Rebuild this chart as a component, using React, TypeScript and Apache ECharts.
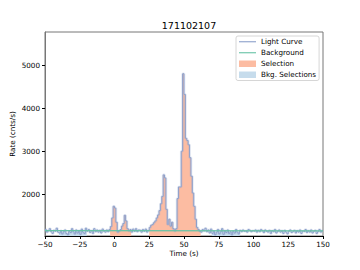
import React, { useEffect, useRef } from "react";
import * as echarts from "echarts";

const TITLE = "171102107";
const T_START = -50; // left edge of first bin (s)
const BIN = 1; // bin width (s)
// light curve rates (cnts/s), one per 1 s bin from -50 s to 150 s
const rates: number[] = [
  // -50 .. -41
  1180, 1120, 1150, 1200, 1130, 1090, 1160, 1140, 1210, 1120,
  // -40 .. -31
  1100, 1150, 1080, 1130, 1170, 1090, 1060, 1140, 1110, 1200,
  // -30 .. -21
  1130, 1080, 1170, 1100, 1150, 1070, 1190, 1120, 1090, 1210,
  // -20 .. -11
  1140, 1180, 1110, 1150, 1090, 1200, 1130, 1170, 1120, 1160,
  // -10 .. -1
  1100, 1190, 1140, 1120, 1170, 1130, 1180, 1250, 1450, 1720,
  // 0 .. 9
  1680, 1350, 1120, 1150, 1180, 1260, 1320, 1510, 1380, 1200,
  // 10 .. 19
  1150, 1180, 1120, 1190, 1140, 1200, 1130, 1170, 1160, 1120,
  // 20 .. 29
  1180, 1140, 1190, 1120, 1160, 1230, 1280, 1300, 1340, 1380,
  // 30 .. 39
  1450, 1520, 1620, 1780, 1950, 2450, 2380, 1650, 1300, 1420,
  // 40 .. 49
  1260, 1350, 1200, 1150, 1200, 1900, 2170, 2170, 3000, 4800,
  // 50 .. 59
  4320, 3300, 3250, 3150, 2850, 2420, 2030, 1720, 1420, 1230,
  // 60 .. 69
  1180, 1140, 1120, 1180, 1150, 1210, 1130, 1170, 1100, 1190,
  // 70 .. 79
  1090, 1140, 1060, 1120, 1180, 1080, 1130, 1200, 1070, 1150,
  // 80 .. 89
  1110, 1170, 1090, 1130, 1060, 1140, 1100, 1180, 1120, 1080,
  // 90 .. 99
  1160, 1130, 1170, 1140, 1150, 1120, 1180, 1160, 1130, 1150,
  // 100 .. 109
  1140, 1170, 1120, 1160, 1130, 1180, 1150, 1110, 1170, 1140,
  // 110 .. 119
  1120, 1160, 1090, 1150, 1130, 1180, 1100, 1140, 1170, 1120,
  // 120 .. 129
  1150, 1090, 1160, 1120, 1080, 1140, 1170, 1110, 1130, 1160,
  // 130 .. 139
  1100, 1150, 1120, 1170, 1090, 1140, 1130, 1180, 1110, 1150,
  // 140 .. 149
  1120, 1170, 1100, 1140, 1160, 1090, 1130, 1180, 1120, 1150,
];
// background model (time, rate)
const backgroundTimes = [-50, 150];
const backgroundRates = [1155, 1150];
// selection intervals (s)
const selections: [number, number][] = [
  [-3.5, 12],
  [25, 62],
];
const bkgSelections: [number, number][] = [
  [-40, -20],
  [70, 90],
];
const xTicks = [-50, -25, 0, 25, 50, 75, 100, 125, 150];
const yTicks = [2000, 3000, 4000, 5000];
const Y_MIN = 1030;
const Y_MAX = 5770;

const rateAt = (t: number) => {
  let i = Math.floor((t - T_START) / BIN + 1e-9);
  if (i < 0) i = 0;
  if (i >= rates.length) i = rates.length - 1;
  return rates[i];
};

const curveData = () => {
  const pts: [number, number][] = rates.map((r, i) => [T_START + i * BIN, r]);
  pts.push([T_START + rates.length * BIN, rates[rates.length - 1]]);
  return pts;
};

const regionData = (a: number, b: number) => {
  const pts: [number, number][] = [[a, rateAt(a)]];
  for (let i = 0; i < rates.length; i++) {
    const t = T_START + i * BIN;
    if (t > a && t < b) pts.push([t, rates[i]]);
  }
  pts.push([b, rateAt(b - 1e-6)]);
  return pts;
};

const FONT = "DejaVu Sans";
const LC = "#8da0cb";
const BG = "#66c2a5";
const SEL = "#fcbca2";
const BSEL = "#c6dcec";

export default function App() {
  const ref = useRef<HTMLDivElement>(null);
  useEffect(() => {
    if (!ref.current) return;
    const chart = echarts.init(ref.current, undefined, { renderer: "svg" });
    const fillSeries = (name: string, color: string, ranges: [number, number][]) =>
      ranges.map((r) => ({
        name,
        type: "line",
        step: "end",
        symbol: "none",
        silent: true,
        data: regionData(r[0], r[1]),
        lineStyle: { width: 0, color },
        itemStyle: { color },
        areaStyle: { color, opacity: 1, origin: "start" },
        z: 1,
      }));
    chart.setOption({
      animation: false,
      title: {
        text: TITLE,
        left: 184,
        textAlign: "center",
        top: 15,
        textStyle: { fontFamily: FONT, fontSize: 9.5, fontWeight: "normal", color: "#000" },
      },
      grid: {
        left: 45,
        right: 37,
        top: 32,
        bottom: 34,
        show: true,
        borderColor: "#777",
        borderWidth: 1,
        backgroundColor: "transparent",
        containLabel: false,
        outerBoundsMode: "none",
      },
      legend: {
        left: 236,
        top: 36,
        orient: "vertical",
        padding: [1, 3, 1, 3],
        itemGap: 1.5,
        itemWidth: 17,
        itemHeight: 6.5,
        borderColor: "#ccc",
        borderWidth: 0.8,
        borderRadius: 2,
        backgroundColor: "rgba(255,255,255,0.8)",
        textStyle: { fontFamily: FONT, fontSize: 7.2, color: "#000", lineHeight: 9.5, padding: [0, 0, 0, 0] },
        itemStyle: { borderWidth: 0 },
        data: [
          { name: "Light Curve", icon: "path://M0 0 H20 V1.3 H0 Z", itemStyle: { color: LC } },
          { name: "Background", icon: "path://M0 0 H20 V1.3 H0 Z", itemStyle: { color: BG } },
          { name: "Selection", icon: "rect", itemStyle: { color: SEL } },
          { name: "Bkg. Selections", icon: "rect", itemStyle: { color: BSEL } },
        ],
      },
      xAxis: {
        type: "value",
        min: -50,
        max: 150,
        interval: 25,
        name: "Time (s)",
        nameLocation: "middle",
        nameGap: 14,
        nameMoveOverlap: false,
        nameTextStyle: { fontFamily: FONT, fontSize: 7.2, color: "#000" },
        axisLine: { show: true, onZero: false, lineStyle: { color: "#000", width: 1 } },
        axisTick: { show: true, length: 3, lineStyle: { color: "#000" }, customValues: xTicks },
        axisLabel: {
          margin: 5,
          fontFamily: FONT,
          fontSize: 7.2,
          color: "#000",
          customValues: xTicks,
          formatter: (v: number) => (v < 0 ? "\u2212" + Math.abs(v) : String(v)),
        },
        splitLine: { show: false },
      },
      yAxis: {
        type: "value",
        min: Y_MIN,
        max: Y_MAX,
        name: "Rate (cnts/s)",
        nameLocation: "middle",
        nameGap: 29,
        nameMoveOverlap: false,
        nameTextStyle: { fontFamily: FONT, fontSize: 7.2, color: "#000" },
        axisLine: { show: true, onZero: false, lineStyle: { color: "#777", width: 1 } },
        axisTick: { show: true, length: 3, lineStyle: { color: "#000" }, customValues: yTicks },
        axisLabel: {
          margin: 5,
          fontFamily: FONT,
          fontSize: 7.2,
          color: "#000",
          customValues: yTicks,
          formatter: (v: number) => String(v),
        },
        splitLine: { show: false },
      },
      series: [
        ...fillSeries("Selection", SEL, selections),
        ...fillSeries("Bkg. Selections", BSEL, bkgSelections),
        {
          name: "Light Curve",
          type: "line",
          step: "end",
          symbol: "none",
          silent: true,
          data: curveData(),
          lineStyle: { color: LC, width: 2.6, opacity: 0.25 },
          itemStyle: { color: LC },
          z: 2,
        },
        {
          name: "Light Curve",
          type: "line",
          step: "end",
          symbol: "none",
          silent: true,
          data: curveData(),
          lineStyle: { color: LC, width: 1 },
          itemStyle: { color: LC },
          z: 3,
        },
        {
          name: "Background",
          type: "line",
          symbol: "none",
          silent: true,
          data: backgroundTimes.map((t, i) => [t, backgroundRates[i]]),
          lineStyle: { color: BG, width: 1.1 },
          itemStyle: { color: BG },
          z: 4,
        },
      ],
    });
    return () => chart.dispose();
  }, []);
  return <div ref={ref} style={{ width: 360, height: 270, margin: -8 }} />;
}
